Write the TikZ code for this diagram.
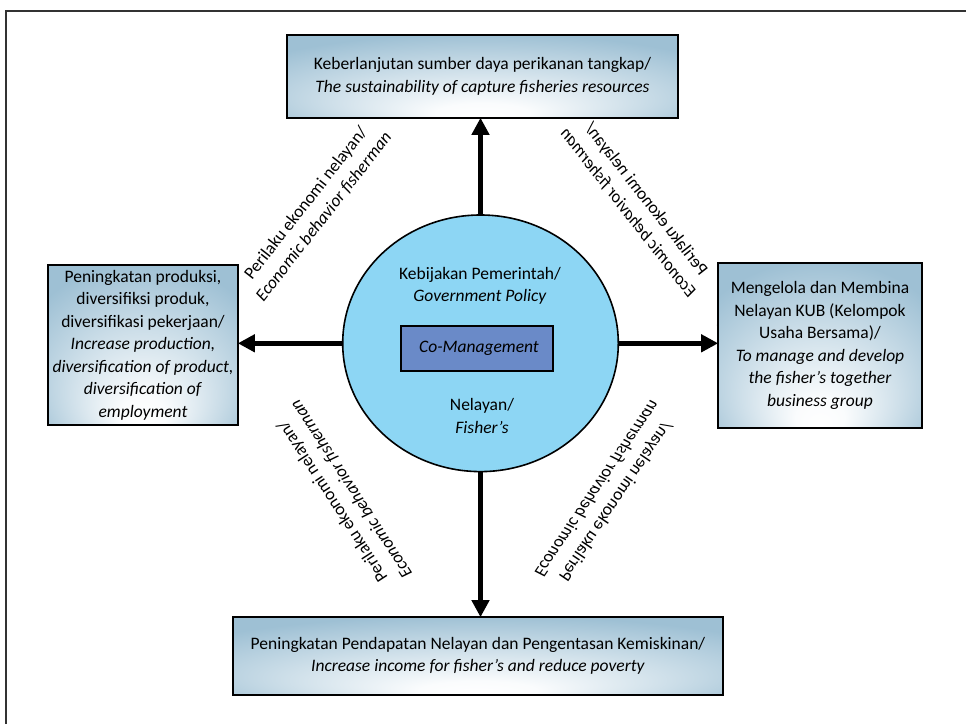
\documentclass[tikz,border=0pt]{standalone}
\usepackage{fontspec}
\setmainfont{Carlito}
\usetikzlibrary{arrows.meta,shapes.geometric}
\definecolor{boxblue}{RGB}{158,192,212}
\definecolor{circblue}{RGB}{141,214,244}
\definecolor{cmblue}{RGB}{106,138,200}
\definecolor{framegray}{RGB}{50,50,50}
\pgfdeclareradialshading{boxshade}{\pgfpoint{0bp}{-25bp}}{color(0bp)=(white); color(6bp)=(white!95!boxblue); color(34bp)=(boxblue); color(50bp)=(boxblue)}
\tikzset{
  txt/.style={font=\fontsize{17.5}{22.5}\selectfont, align=center},
  gbox/.style={txt, draw=black, line width=1.6pt, shading=boxshade, inner sep=0pt},
  lbl/.style={txt, inner sep=0pt},
  bigarrow/.style={line width=5pt, -{Triangle[length=17pt,width=17pt]}, shorten >=-1pt},
}
\begin{document}
\begin{tikzpicture}[x=1pt,y=1pt]
\useasboundingbox (0,0) rectangle (966,724);
% outer frame
\draw[framegray, line width=2pt] (6,0) -- (6,713) -- (966,713);
% boxes
\node[gbox, minimum width=391pt, minimum height=83pt] (top) at (482.5,647.5)
  {Keberlanjutan sumber daya perikanan tangkap/\\\textit{The sustainability of capture fisheries resources}};
\node[gbox, minimum width=190pt, minimum height=160pt] (left) at (143,379)
  {Peningkatan produksi,\\diversifiksi produk,\\diversifikasi pekerjaan/\\\textit{Increase production,}\\\textit{diversification of product,}\\\textit{diversification of}\\\textit{employment}};
\node[gbox, minimum width=204pt, minimum height=165pt] (right) at (820,378.5)
  {Mengelola dan Membina\\Nelayan KUB (Kelompok\\Usaha Bersama)/\\\textit{To manage and develop}\\\textit{the fisher’s together}\\\textit{business group}};
\node[gbox, minimum width=490pt, minimum height=78pt] (bot) at (478,68)
  {Peningkatan Pendapatan Nelayan dan Pengentasan Kemiskinan/\\\textit{Increase income for fisher’s and reduce poverty}};
% circle
\node[ellipse, draw=black, line width=1.6pt, fill=circblue, minimum width=275.6pt, minimum height=256.6pt, inner sep=0pt] (circ) at (480.5,380.7) {};
\node[txt] (gov) at (480,438) {Kebijakan Pemerintah/\\\textit{Government Policy}};
\node[txt] (fish) at (482,308) {Nelayan/\\\textit{Fisher’s}};
\node[txt, draw=black, line width=1.4pt, fill=cmblue, minimum width=152pt, minimum height=45pt, inner sep=0pt] (cm) at (477,375.5) {\hspace{4pt}\textit{Co-Management}};
% arrows
\draw[bigarrow] (circ.north) -- (circ.north |- top.south);
\draw[bigarrow] (circ.south) -- (circ.south |- bot.north);
\draw[bigarrow] (circ.west) -- (circ.west -| left.east);
\draw[bigarrow] (circ.east) -- (circ.east -| right.west);
% diagonal labels
\node[lbl, rotate=52] (l1) at (315,514) {Perilaku ekonomi nelayan/\\\textit{Economic behavior fisherman}};
\node[lbl, rotate=128, yscale=-1] (l2) at (637,518) {Perilaku ekonomi nelayan/\\\textit{Economic behavior fisherman}};
\node[lbl, rotate=123] (l3) at (342,229) {Perilaku ekonomi nelayan/\\\textit{Economic behavior fisherman}};
\node[lbl, rotate=56, yscale=-1] (l4) at (606,229) {Perilaku ekonomi nelayan/\\\textit{Economic behavior fisherman}};
% stray dot
\node[lbl] (dot) at (718,398) {.};
\end{tikzpicture}
\end{document}
